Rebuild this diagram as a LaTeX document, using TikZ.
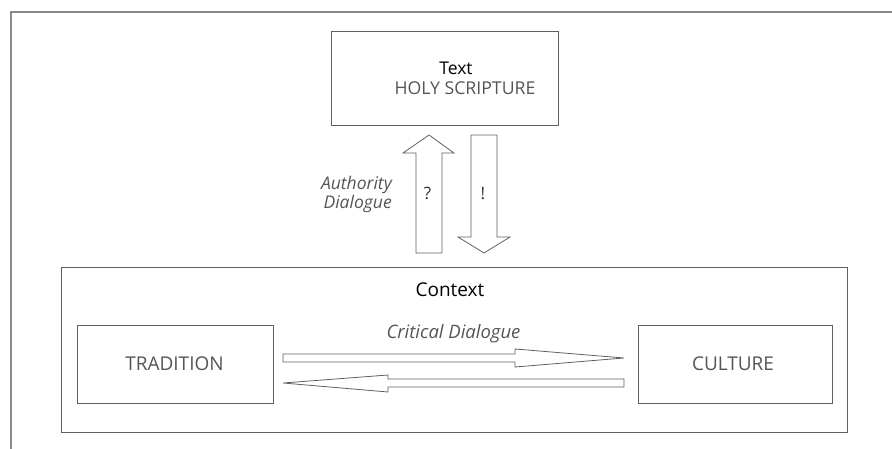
\documentclass[tikz,border=0pt]{standalone}
\usepackage{fontspec}
\setmainfont{Open Sans}
\begin{document}
\begin{tikzpicture}[x=1pt,y=-1pt,
  box/.style={draw=linegray, line width=0.9pt, rectangle, inner sep=0pt},
  blk/.style={draw=linegray, line width=0.8pt, fill=white, line join=miter},
  lbl/.style={text=txtgray, font=\fontsize{19}{21}\selectfont, inner sep=0pt, anchor=base},
  ilbl/.style={text=txtgray, font=\fontsize{18.5}{20}\selectfont\itshape, inner sep=0pt},
  ttl/.style={text=black, font=\fontsize{19}{21}\selectfont, inner sep=0pt, anchor=base}]
\definecolor{linegray}{HTML}{606060}
\definecolor{txtgray}{HTML}{555555}
\definecolor{framegray}{HTML}{8A8A8A}
\useasboundingbox (0,0) rectangle (892,449);
% frame
\coordinate (fbl) at (11,449);
\coordinate (ftl) at (11,12);
\coordinate (ftr) at (892,12);
\draw[framegray, line width=1.6pt] (fbl) -- (ftl) -- (ftr);
% boxes
\node[box, minimum width=227, minimum height=94] (text) at (444.5,78) {};
\node[ttl, font=\fontsize{17.5}{19}\selectfont] (texttitle) at (456,75) {Text};
\node[lbl, font=\fontsize{17.7}{19}\selectfont] (holy) at (465,95) {HOLY SCRIPTURE};
\node[box, minimum width=786, minimum height=165] (context) at (454,349.5) {};
\node[ttl] (ctxtitle) at (450,296.7) {Context};
\node[box, minimum width=196, minimum height=78] (trad) at (175,364) {};
\node[lbl] (tradlbl) at (174.5,370.7) {TRADITION};
\node[box, minimum width=194, minimum height=78] (cult) at (735,364) {};
\node[lbl] (cultlbl) at (733,370.7) {CULTURE};
% vertical block arrows
\draw[blk] (416,253) -- (416,153) -- (403,153) -- (429,135) -- (454,153) -- (442,153) -- (442,253) -- cycle;
\draw[blk] (471,135) -- (471,237) -- (458,237) -- (484,253) -- (510,237) -- (497,237) -- (497,135) -- cycle;
\node[lbl, text=black!80, font=\fontsize{17}{19}\selectfont] (q) at (427.5,200) {?};
\node[lbl, text=black!80, font=\fontsize{17}{19}\selectfont] (ex) at (483,200) {!};
\node[ilbl, font=\fontsize{17.5}{19}\selectfont\itshape, anchor=base east] (auth) at (392,190) {Authority};
\node[ilbl, font=\fontsize{17.5}{19}\selectfont\itshape, anchor=base east] (dial) at (392,209) {Dialogue};
% horizontal block arrows
\draw[blk] (283,354) -- (515,354) -- (515,349) -- (624,358) -- (515,367) -- (515,362) -- (283,362) -- cycle;
\draw[blk] (624,379) -- (388,379) -- (388,375) -- (283,383) -- (388,392) -- (388,387) -- (624,387) -- cycle;
\node[ilbl, anchor=base] (crit) at (453.5,338) {Critical Dialogue};
\end{tikzpicture}
\end{document}
